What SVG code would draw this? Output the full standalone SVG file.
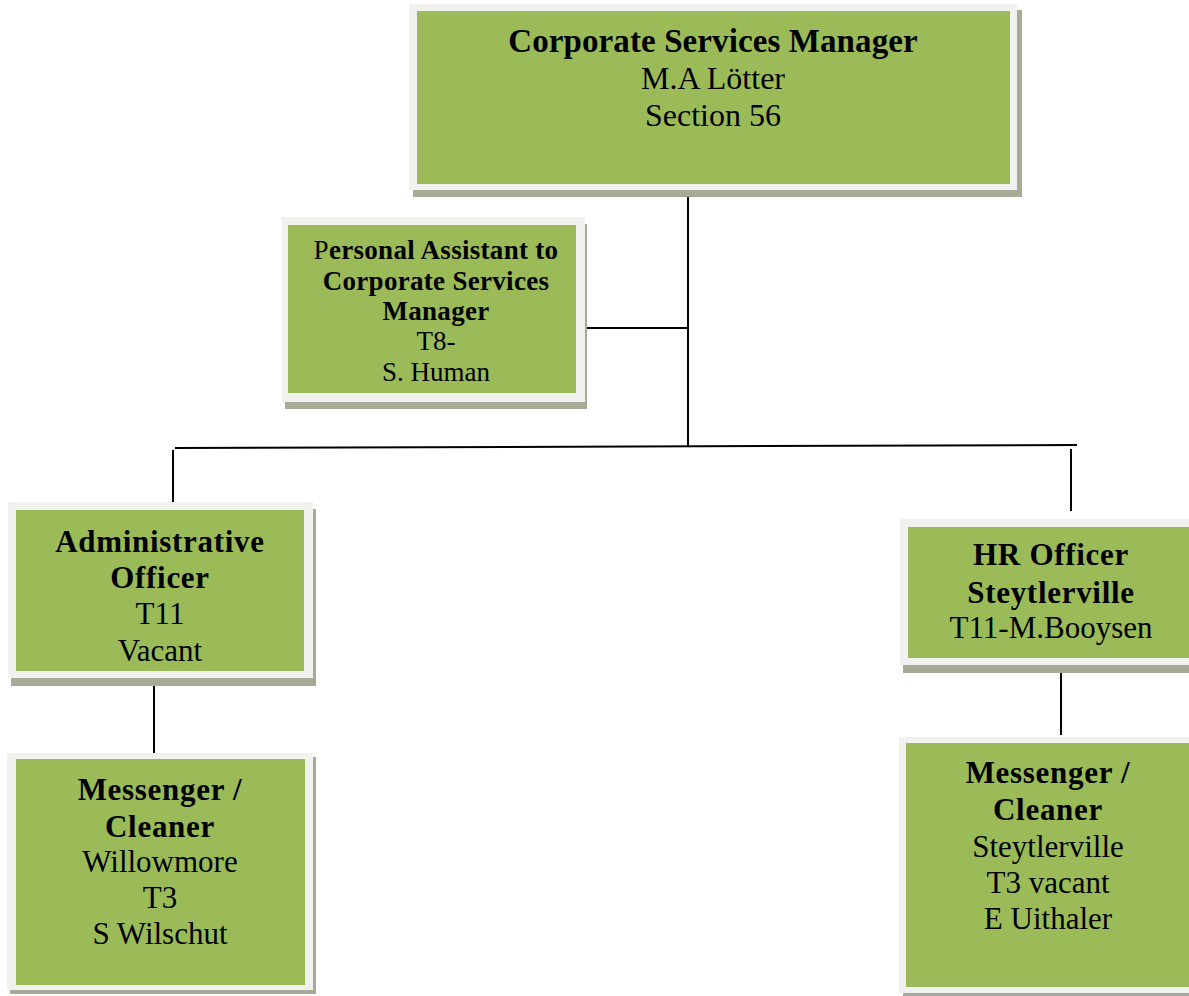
<svg xmlns="http://www.w3.org/2000/svg" width="1189" height="996" viewBox="0 0 1189 996">
  <style>
    .shadow { fill: #a7aa97; }
    .frame { fill: #f1f2ef; }
    .card { fill: #9bbb59; }
    .t { font-family: "Liberation Serif", "Times New Roman", serif; fill: #000; text-anchor: middle; }
    .b { font-weight: bold; letter-spacing: 0.7px; }
    .link { stroke: #000; stroke-width: 2; fill: none; }
  </style>

  <rect width="1189" height="996" fill="#ffffff"/>

  <!-- reporting lines -->
  <g id="connectors">
    <line class="link" x1="688" y1="190" x2="688" y2="447"/>
    <line class="link" x1="585" y1="328" x2="688" y2="328"/>
    <line class="link" x1="175" y1="448" x2="1077" y2="445"/>
    <line class="link" x1="173" y1="450" x2="173" y2="502"/>
    <line class="link" x1="1071" y1="449" x2="1071" y2="511"/>
    <line class="link" x1="154" y1="678" x2="154" y2="756"/>
    <line class="link" x1="1061" y1="665" x2="1061" y2="735"/>
  </g>

  <g id="corporate-services-manager">
    <rect class="shadow" x="413" y="10" width="609" height="187"/>
    <rect class="frame" x="409" y="4" width="608" height="186"/>
    <rect class="card" x="417" y="11" width="593" height="173"/>
    <text class="t b" x="713" y="52" font-size="33" style="letter-spacing:0.1px">Corporate Services Manager</text>
    <text class="t" x="713" y="89" font-size="32">M.A Lötter</text>
    <text class="t" x="713" y="126" font-size="32">Section 56</text>
  </g>

  <g id="personal-assistant">
    <rect class="shadow" x="285" y="224" width="302" height="185"/>
    <rect class="frame" x="282" y="217" width="303" height="185"/>
    <rect class="card" x="288" y="225" width="288" height="168"/>
    <text class="t b" x="436" y="259" font-size="27" style="letter-spacing:0.3px"><tspan font-weight="normal">P</tspan>ersonal Assistant to</text>
    <text class="t b" x="436" y="290" font-size="27" style="letter-spacing:0.3px">Corporate Services</text>
    <text class="t b" x="436" y="320" font-size="27" style="letter-spacing:0.3px">Manager</text>
    <text class="t" x="436" y="350" font-size="27">T8-</text>
    <text class="t" x="436" y="381" font-size="27">S. Human</text>
  </g>

  <g id="administrative-officer">
    <rect class="shadow" x="11" y="509" width="305" height="177"/>
    <rect class="frame" x="8" y="502" width="305" height="176"/>
    <rect class="card" x="16" y="510" width="288" height="161"/>
    <text class="t b" x="160" y="552" font-size="31">Administrative</text>
    <text class="t b" x="160" y="588" font-size="31">Officer</text>
    <text class="t" x="160" y="624" font-size="31">T11</text>
    <text class="t" x="160" y="661" font-size="31">Vacant</text>
  </g>

  <g id="hr-officer">
    <rect class="shadow" x="903" y="527" width="300" height="146"/>
    <rect class="frame" x="900" y="519" width="300" height="146"/>
    <rect class="card" x="908" y="527" width="286" height="131"/>
    <text class="t b" x="1051" y="565" font-size="31">HR Officer</text>
    <text class="t b" x="1051" y="603" font-size="31">Steytlerville</text>
    <text class="t" x="1051" y="638" font-size="31">T11-M.Booysen</text>
  </g>

  <g id="messenger-willowmore">
    <rect class="shadow" x="10" y="757" width="306" height="237"/>
    <rect class="frame" x="7" y="753" width="306" height="237"/>
    <rect class="card" x="16" y="759" width="289" height="226"/>
    <text class="t b" x="160" y="800" font-size="31">Messenger /</text>
    <text class="t b" x="160" y="837" font-size="31">Cleaner</text>
    <text class="t" x="160" y="872" font-size="31">Willowmore</text>
    <text class="t" x="160" y="908" font-size="31">T3</text>
    <text class="t" x="160" y="944" font-size="31">S Wilschut</text>
  </g>

  <g id="messenger-steytlerville">
    <rect class="shadow" x="903" y="741" width="300" height="256"/>
    <rect class="frame" x="899" y="737" width="301" height="256"/>
    <rect class="card" x="906" y="743" width="286" height="244"/>
    <text class="t b" x="1048" y="783" font-size="31">Messenger /</text>
    <text class="t b" x="1048" y="820" font-size="31">Cleaner</text>
    <text class="t" x="1048" y="857" font-size="31">Steytlerville</text>
    <text class="t" x="1048" y="893" font-size="31">T3 vacant</text>
    <text class="t" x="1048" y="929" font-size="31">E Uithaler</text>
  </g>
</svg>
